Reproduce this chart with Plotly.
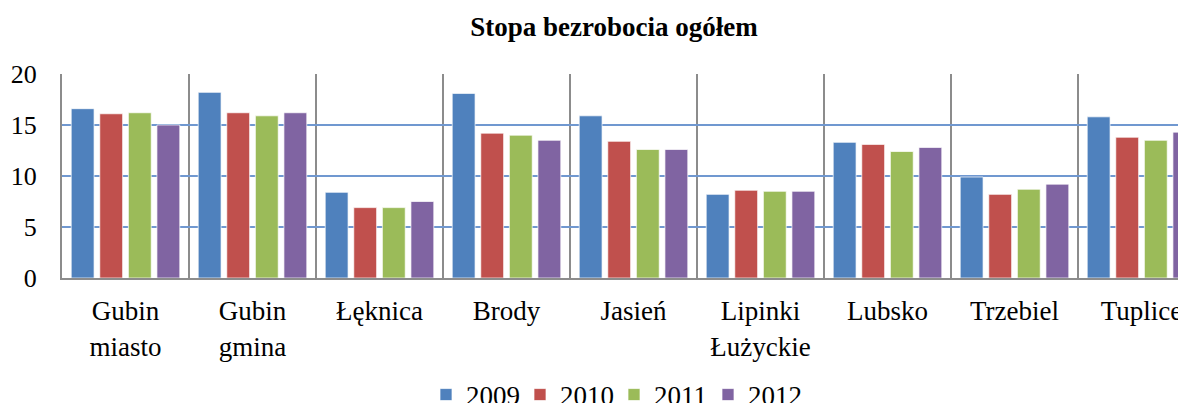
import plotly.graph_objects as go

# Stopa bezrobocia ogółem (%) by gmina, 2009-2012
categories = ["Gubin<br>miasto", "Gubin<br>gmina", "Łęknica", "Brody", "Jasień",
              "Lipinki<br>Łużyckie", "Lubsko", "Trzebiel", "Tuplice"]
years = ["2009", "2010", "2011", "2012"]
values_2009 = [16.6, 18.2, 8.4, 18.1, 15.9, 8.2, 13.3, 9.9, 15.8]
values_2010 = [16.1, 16.2, 6.9, 14.2, 13.4, 8.6, 13.1, 8.2, 13.8]
values_2011 = [16.2, 15.9, 6.9, 14.0, 12.6, 8.5, 12.4, 8.7, 13.5]
values_2012 = [15.0, 16.2, 7.5, 13.5, 12.6, 8.5, 12.8, 9.2, 14.3]

series = [values_2009, values_2010, values_2011, values_2012]
colors = ["#4F81BD", "#C0504D", "#9BBB59", "#8064A2"]
FONT = "Times New Roman, Liberation Serif, serif"

fig = go.Figure()
for year, vals, color in zip(years, series, colors):
    fig.add_trace(go.Bar(
        x=categories,
        y=vals,
        name=year,
        marker=dict(color=color, line=dict(color="rgba(255,255,255,0.7)", width=1)),
    ))

# page has an 8px body margin; figure is wider than the window so the
# last group gets cut on the right like in the original
W, H = 1197, 403
fig.update_layout(
    width=W,
    height=H,
    barmode="group",
    bargap=0.1,
    bargroupgap=0.2,
    plot_bgcolor="white",
    paper_bgcolor="white",
    font=dict(family=FONT, size=27, color="black"),
    title=dict(text="<b>Stopa bezrobocia ogółem</b>", x=606 / W, xref="container",
               xanchor="center", y=1 - 19 / H, yref="container", yanchor="middle",
               font=dict(family=FONT, size=27, color="black")),
    margin=dict(l=54, r=0, t=66, b=133),
    showlegend=True,
    legend=dict(orientation="h", x=418 / W, xanchor="left", xref="container",
                y=(H - 387) / H, yref="container", yanchor="middle",
                font=dict(family=FONT, size=27), itemwidth=30,
                entrywidth=49, entrywidthmode="pixels"),
    xaxis=dict(type="category", range=[-0.5, 8.5], tickson="boundaries",
               showgrid=True, gridcolor="#8C8C8C", gridwidth=1.5,
               showline=True, linecolor="#8C8C8C", linewidth=2,
               ticks="", ticklabelstandoff=8),
    yaxis=dict(range=[0, 20], dtick=5, showgrid=True, gridcolor="#7098D0", gridwidth=2,
               showline=True, linecolor="#8C8C8C", linewidth=2, zeroline=False,
               ticks="", ticklabelstandoff=18, tickfont=dict(size=26)),
)

fig.write_html("out.html")
